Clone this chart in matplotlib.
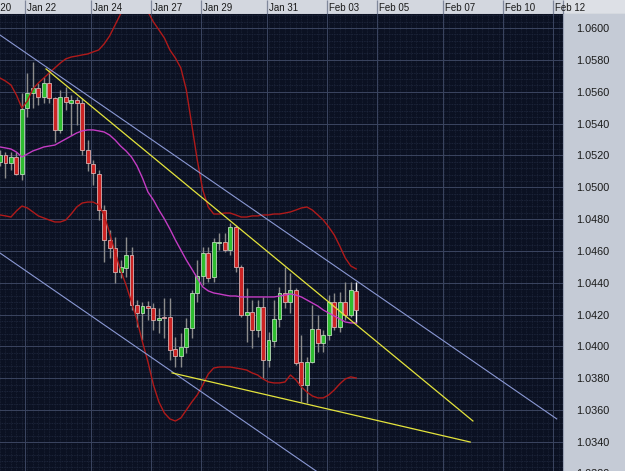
import numpy as np
import matplotlib
matplotlib.use("Agg")
import matplotlib.pyplot as plt
from matplotlib.patches import Rectangle
from matplotlib.transforms import blended_transform_factory

plt.rcParams["font.family"] = ["Liberation Sans", "DejaVu Sans"]

# 4H candles, oldest first
opens = [1.05159, 1.05203, 1.05152, 1.05190, 1.05083, 1.05498, 1.05592, 1.05623, 1.05567, 1.05655,
         1.05561, 1.05360, 1.05567, 1.05529, 1.05548, 1.05529, 1.05234, 1.05146, 1.05083, 1.04857,
         1.04669, 1.04619, 1.04468, 1.04493, 1.04575, 1.04261, 1.04210, 1.04254, 1.04242, 1.04166,
         1.04185, 1.04185, 1.03984, 1.03940, 1.03997, 1.04116, 1.04336, 1.04443, 1.04587, 1.04436,
         1.04653, 1.04656, 1.04606, 1.04750, 1.04499, 1.04198, 1.04217, 1.04104, 1.04248, 1.03915,
         1.04035, 1.04173, 1.04336, 1.04280, 1.04355, 1.03903, 1.03758, 1.03903, 1.04110, 1.04022,
         1.04072, 1.04280, 1.04122, 1.04280, 1.04198, 1.04349]
highs = [1.05234, 1.05221, 1.05221, 1.05221, 1.05592, 1.05718, 1.05787, 1.05655, 1.05692, 1.05736,
         1.05567, 1.05611, 1.05630, 1.05579, 1.05567, 1.05561, 1.05297, 1.05171, 1.05108, 1.04889,
         1.04732, 1.04688, 1.04543, 1.04688, 1.04625, 1.04292, 1.04280, 1.04286, 1.04273, 1.04242,
         1.04305, 1.04305, 1.04060, 1.04085, 1.04179, 1.04355, 1.04543, 1.04625, 1.04625, 1.04681,
         1.04713, 1.04713, 1.04776, 1.04763, 1.04512, 1.04368, 1.04292, 1.04292, 1.04311, 1.04091,
         1.04292, 1.04374, 1.04499, 1.04462, 1.04368, 1.04072, 1.03934, 1.04261, 1.04198, 1.04104,
         1.04323, 1.04336, 1.04342, 1.04405, 1.04405, 1.04405]
lows = [1.05134, 1.05058, 1.05108, 1.05077, 1.05046, 1.05441, 1.05498, 1.05517, 1.05529, 1.05529,
        1.05284, 1.05341, 1.05485, 1.05328, 1.05391, 1.05203, 1.05102, 1.05014, 1.04794, 1.04531,
        1.04556, 1.04399, 1.04430, 1.04436, 1.04229, 1.04122, 1.04041, 1.04166, 1.04104, 1.04085,
        1.04053, 1.03915, 1.03871, 1.03871, 1.03959, 1.04053, 1.04280, 1.04386, 1.04405, 1.04405,
        1.04606, 1.04594, 1.04575, 1.04468, 1.04185, 1.04028, 1.03991, 1.04060, 1.03802, 1.03871,
        1.03997, 1.04122, 1.04242, 1.04210, 1.03884, 1.03651, 1.03645, 1.03896, 1.03966, 1.03966,
        1.04041, 1.04104, 1.04091, 1.04166, 1.04185, 1.04148]
closes = [1.05203, 1.05152, 1.05190, 1.05083, 1.05491, 1.05592, 1.05623, 1.05567, 1.05655, 1.05561,
          1.05360, 1.05567, 1.05535, 1.05548, 1.05529, 1.05234, 1.05152, 1.05090, 1.04857, 1.04669,
          1.04619, 1.04468, 1.04499, 1.04575, 1.04261, 1.04210, 1.04254, 1.04242, 1.04166, 1.04179,
          1.04176, 1.03978, 1.03940, 1.03997, 1.04116, 1.04336, 1.04443, 1.04587, 1.04430, 1.04656,
          1.04656, 1.04606, 1.04750, 1.04499, 1.04198, 1.04217, 1.04104, 1.04248, 1.03915, 1.04041,
          1.04173, 1.04336, 1.04280, 1.04355, 1.03896, 1.03758, 1.03903, 1.04110, 1.04022, 1.04072,
          1.04280, 1.04122, 1.04280, 1.04198, 1.04355, 1.04229]

# Bollinger bands, one value per candle
bb_upper = [1.05686, 1.05667, 1.05642, 1.05579, 1.05498, 1.05542, 1.05617, 1.05655, 1.05686, 1.05718,
            1.05749, 1.05780, 1.05806, 1.05818, 1.05824, 1.05831, 1.05837, 1.05850, 1.05862, 1.05900,
            1.05950, 1.06019, 1.06088, 1.06138, 1.06176, 1.06189, 1.06163, 1.06101, 1.06038, 1.05988,
            1.05937, 1.05862, 1.05812, 1.05749, 1.05611, 1.05391, 1.05171, 1.04983, 1.04876, 1.04832,
            1.04832, 1.04838, 1.04838, 1.04826, 1.04813, 1.04813, 1.04820, 1.04820, 1.04826, 1.04826,
            1.04832, 1.04832, 1.04838, 1.04845, 1.04857, 1.04870, 1.04876, 1.04857, 1.04826, 1.04794,
            1.04750, 1.04700, 1.04631, 1.04556, 1.04506, 1.04487]
bb_middle = [1.05253, 1.05247, 1.05240, 1.05221, 1.05190, 1.05209, 1.05228, 1.05240, 1.05253, 1.05259,
             1.05265, 1.05284, 1.05303, 1.05322, 1.05341, 1.05354, 1.05360, 1.05360, 1.05354, 1.05347,
             1.05328, 1.05297, 1.05259, 1.05228, 1.05190, 1.05134, 1.05058, 1.04970, 1.04920, 1.04857,
             1.04801, 1.04738, 1.04669, 1.04606, 1.04543, 1.04487, 1.04430, 1.04374, 1.04349, 1.04336,
             1.04330, 1.04323, 1.04317, 1.04317, 1.04311, 1.04311, 1.04311, 1.04311, 1.04311, 1.04311,
             1.04311, 1.04317, 1.04323, 1.04330, 1.04323, 1.04311, 1.04292, 1.04273, 1.04254, 1.04229,
             1.04210, 1.04192, 1.04173, 1.04154, 1.04148, 1.04148]
bb_lower = [1.04826, 1.04820, 1.04813, 1.04851, 1.04882, 1.04870, 1.04845, 1.04820, 1.04807, 1.04794,
            1.04782, 1.04782, 1.04794, 1.04832, 1.04876, 1.04901, 1.04907, 1.04907, 1.04889, 1.04826,
            1.04713, 1.04593, 1.04480, 1.04386, 1.04279, 1.04166, 1.04028, 1.03903, 1.03758, 1.03651,
            1.03582, 1.03545, 1.03532, 1.03551, 1.03601, 1.03651, 1.03696, 1.03758, 1.03827, 1.03865,
            1.03871, 1.03871, 1.03871, 1.03865, 1.03859, 1.03852, 1.03834, 1.03821, 1.03796, 1.03777,
            1.03771, 1.03771, 1.03777, 1.03821, 1.03790, 1.03746, 1.03714, 1.03689, 1.03677, 1.03677,
            1.03696, 1.03727, 1.03765, 1.03796, 1.03809, 1.03802]

# hand drawn lines: (candle index, price) anchors
trend_upper_x = [8.4, 86.3]
trend_upper_y = [1.05743, 1.03532]
trend_lower_x = [31.4, 85.8]
trend_lower_y = [1.03834, 1.03400]
channel_top_x = [0.0, 101.6]
channel_top_y = [1.05956, 1.03545]
channel_bot_x = [0.0, 101.6]
channel_bot_y = [1.04587, 1.02176]

date_labels = ["Jan 20", "Jan 22", "Jan 24", "Jan 27", "Jan 29", "Jan 31",
               "Feb 03", "Feb 05", "Feb 07", "Feb 10", "Feb 12"]
date_pos = [-3.65, 4.56, 16.6, 27.55, 36.68, 48.72, 59.67, 68.8, 80.84, 91.79, 100.9]

price_ticks = [1.0600, 1.0580, 1.0560, 1.0540, 1.0520, 1.0500, 1.0480,
               1.0460, 1.0440, 1.0420, 1.0400, 1.0380, 1.0360, 1.0340]

W, H = 625, 471
PX = 5.48  # pixels per candle
plot_w, bar_h = 563, 14

fig = plt.figure(figsize=(W / 100, H / 100), dpi=100, facecolor="#c5cbd6")

ax = fig.add_axes([0, 0, plot_w / W, (H - bar_h) / H], facecolor="#0b1122")
ax.set_xlim(0, plot_w / PX)
ax.set_ylim(1.03218, 1.06088)

# grid
for p in np.arange(1.0320, 1.0620, 0.0004):
    ax.axhline(p, color="#222b42", lw=0.6, ls=(0, (1, 1)), zorder=0)
for i in range(0, 104):
    ax.axvline(i, color="#1d2539", lw=0.6, ls=(0, (1, 1)), zorder=0)
for p in price_ticks:
    ax.axhline(p, color="#3b4560", lw=0.7, zorder=0.5)
for d in date_pos:
    ax.axvline(d, color="#3b4560", lw=0.7, zorder=0.5)

# candles
idx = np.arange(len(opens))
o = np.array(opens)
c = np.array(closes)
up = c >= o
ax.vlines(idx[:-1], np.array(lows)[:-1], np.array(highs)[:-1], color="#8c8c8c", lw=1, zorder=2)
ax.vlines(idx[-1], lows[-1], highs[-1], color="#f0f0f0", lw=1, zorder=2)
body = np.where(np.abs(c - o) < 0.00004, 0.00004, c - o)
ax.bar(idx[up], body[up], bottom=o[up], width=0.72, color="#2fbd2f",
       edgecolor="#b8d8b8", lw=0.6, zorder=3)
ax.bar(idx[~up], body[~up], bottom=o[~up], width=0.72, color="#cc2424",
       edgecolor="#d8b0b0", lw=0.6, zorder=3)

# indicators
ax.plot(idx, bb_upper, color="#b01a1a", lw=1.0, zorder=4)
ax.plot(idx, bb_lower, color="#b01a1a", lw=1.0, zorder=4)
ax.plot(idx, bb_middle, color="#c43cc4", lw=1.0, zorder=4)

ax.plot(channel_top_x, channel_top_y, color="#8a98d4", lw=0.8, zorder=5)
ax.plot(channel_bot_x, channel_bot_y, color="#8a98d4", lw=0.8, zorder=5)
ax.plot(trend_upper_x, trend_upper_y, color="#e4e43c", lw=0.9, zorder=5)
ax.plot(trend_lower_x, trend_lower_y, color="#e4e43c", lw=0.9, zorder=5)

# price scale on the right
ax.yaxis.tick_right()
ax.set_yticks(price_ticks)
ax.set_yticklabels([f"{p:.4f}" for p in price_ticks], fontsize=7.8, color="#1a1a1a")
ax.tick_params(axis="y", length=0, pad=9.5)
ax.set_xticks([])
tr = blended_transform_factory(ax.transAxes, ax.transData)
ax.text(1.0 + 13 / plot_w, 1.0320, "1.0320", transform=tr, fontsize=7.8,
        color="#1a1a1a", va="center", ha="left", clip_on=False)
for s in ax.spines.values():
    s.set_visible(False)
ax.spines["right"].set_visible(True)
ax.spines["right"].set_color("#9aa2b4")

# date bar on top
ax_top = fig.add_axes([0, (H - bar_h) / H, 1, bar_h / H], facecolor="#d3d7df")
ax_top.set_xlim(0, W / PX)
ax_top.set_ylim(0, 1)
ax_top.set_xticks([])
ax_top.set_yticks([])
for s in ax_top.spines.values():
    s.set_visible(False)
ax_top.add_patch(Rectangle((plot_w / PX, 0), (W - plot_w) / PX, 1, color="#dde0e6", zorder=0))
for d, lab in zip(date_pos, date_labels):
    ax_top.vlines(d, 0, 1, color="#7f879b", lw=0.9)
    ax_top.text(d + 0.4, 0.45, lab, fontsize=7, color="#1a1a1a", va="center", ha="left",
                clip_on=True, clip_box=ax_top.bbox)
ax_top.vlines(plot_w / PX, 0, 1, color="#7f879b", lw=0.9)
ax_top.axhline(0, color="#5a6274", lw=0.8)

fig.savefig("out.png", dpi=100, facecolor=fig.get_facecolor())
